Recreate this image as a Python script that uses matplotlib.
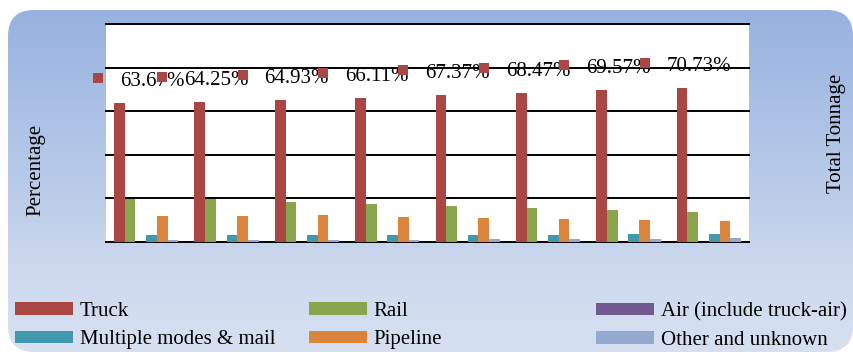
import numpy as np
import matplotlib
matplotlib.use("Agg")
from matplotlib import pyplot as plt
from matplotlib.patches import FancyBboxPatch, Patch
from matplotlib.colors import to_rgb

plt.rcParams["font.family"] = ["Liberation Serif", "DejaVu Serif"]

# mode share (%) per period
truck = [63.67, 64.25, 64.93, 66.11, 67.37, 68.47, 69.57, 70.73]
rail = [19.7, 19.6, 18.3, 17.4, 16.5, 15.6, 14.7, 13.8]
air = [0.1, 0.1, 0.1, 0.1, 0.1, 0.1, 0.1, 0.1]
multiple = [3.0, 3.0, 3.1, 3.2, 3.3, 3.4, 3.6, 3.7]
pipeline = [11.9, 11.9, 12.3, 11.5, 11.0, 10.5, 10.1, 9.6]
other = [0.8, 0.8, 0.9, 1.0, 1.2, 1.4, 1.6, 2.0]

# truck share of total tonnage (secondary axis markers)
truck_tonnage_share = [63.67, 64.25, 64.93, 66.11, 67.37, 68.47, 69.57, 70.73]

SERIES = [
    ("Truck", truck, "#AA4643"),
    ("Rail", rail, "#89A54E"),
    ("Air (include truck-air)", air, "#71588F"),
    ("Multiple modes & mail", multiple, "#4198AF"),
    ("Pipeline", pipeline, "#DB843D"),
    ("Other and unknown", other, "#93A9CF"),
]

W, H = 854, 354
fig = plt.figure(figsize=(W / 100, H / 100), dpi=100)
fig.patch.set_facecolor("white")

# rounded gradient panel behind everything
bg = fig.add_axes([0, 0, 1, 1], zorder=-5)
box = FancyBboxPatch((8, 10), 845, 342, boxstyle="round,pad=0,rounding_size=26",
                     facecolor="none", edgecolor="none")
bg.add_patch(box)
stops_y = [10, 200, 260, 352]
stops_c = [to_rgb(c) for c in ["#97b2e0", "#bccde9", "#cbd8ee", "#d6e0f1"]]
yy = np.linspace(10, 352, 300)
grad = np.stack([np.interp(yy, stops_y, [c[k] for c in stops_c]) for k in range(3)], axis=-1)[:, None, :]
im = bg.imshow(grad, extent=[8, 853, 352, 10], aspect="auto", interpolation="bilinear")
im.set_clip_path(box)
bg.set_xlim(0, W)
bg.set_ylim(H, 0)
bg.axis("off")

# main plot area
ax = fig.add_axes([106 / W, 1 - 242 / H, 643 / W, 218 / H])
ax.set_facecolor("white")
x = np.arange(len(truck))
width = 0.8 / len(SERIES)
for k, (name, vals, color) in enumerate(SERIES):
    ax.bar(x + (k - (len(SERIES) - 1) / 2) * width, vals, width, color=color,
           label=name, zorder=2)

ax.set_xlim(-0.5, len(truck) - 0.5)
ax.set_ylim(0, 100)
for v in range(0, 101, 20):
    ax.axhline(v, color="black", lw=1.4, zorder=1, clip_on=False)
ax.tick_params(length=0, labelleft=False, labelbottom=False)
for s in ax.spines.values():
    s.set_visible(False)

# secondary axis: truck share of total tonnage
ax2 = ax.twinx()
ax2.set_ylim(-13.7, 89.1)
ax2.patch.set_visible(False)
ax2.tick_params(length=0, labelright=False)
for s in ax2.spines.values():
    s.set_visible(False)
# the first marker sits a bit further right than the others in the source
marker_x = np.maximum(x - 0.8, -0.6)
ax2.plot(marker_x, truck_tonnage_share, ls="none", marker="s", ms=7.2, mew=0,
         color="#AA4643", clip_on=False, zorder=5)
for mx, v in zip(marker_x, truck_tonnage_share):
    ax2.annotate(f"{v:.2f}%", (mx, v), xytext=(15.8, -2.5), textcoords="offset points",
                 ha="left", va="center", fontsize=15, color="black", zorder=4,
                 annotation_clip=False)

fig.text(36 / W, 1 - 170 / H, "Percentage", rotation=90, ha="center", va="center", fontsize=15)
fig.text(837 / W, 1 - 133 / H, "Total Tonnage", rotation=90, ha="center", va="center", fontsize=15)

# legend: three columns, two rows
handles = [Patch(facecolor=c, edgecolor="none") for _, _, c in SERIES]
names = [n for n, _, _ in SERIES]
for col, left in enumerate([15, 309, 596]):
    idx = [col, col + 3]
    fig.legend([handles[i] for i in idx], [names[i] for i in idx],
               loc="upper left", bbox_to_anchor=(left / W, 1 - 302 / H),
               frameon=False, fontsize=15, handlelength=2.8, handleheight=0.55,
               handletextpad=0.3, labelspacing=0.45, borderpad=0, borderaxespad=0)

fig.savefig("out.png", dpi=100)
